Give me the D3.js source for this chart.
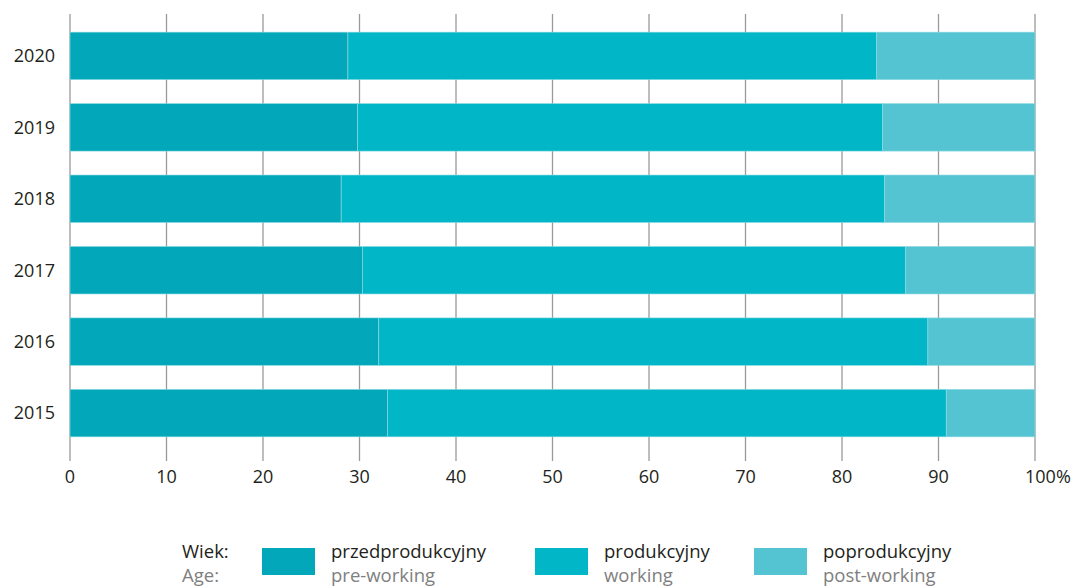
<!DOCTYPE html>
<html>
<head>
<meta charset="utf-8">
<script src="https://cdn.jsdelivr.net/npm/d3@7/dist/d3.min.js"></script>
<style>
  body { margin: 0; background: #fff; }
  text { font-family: "Open Sans", "Noto Sans", sans-serif; }
</style>
</head>
<body>
<div id="chart"></div>
<script>
// data (percent of population)
var years = ["2020", "2019", "2018", "2017", "2016", "2015"]
var preWorking = [28.8, 29.8, 28.1, 30.3, 32.0, 32.9]
var working = [54.8, 54.4, 56.3, 56.3, 56.9, 57.9]
var postWorking = [16.4, 15.8, 15.6, 13.4, 11.1, 9.2]
var xTicks = [0, 10, 20, 30, 40, 50, 60, 70, 80, 90, 100]

var seriesKeys = ["pre", "work", "post"]
var seriesPl = ["przedprodukcyjny", "produkcyjny", "poprodukcyjny"]
var seriesEn = ["pre-working", "working", "post-working"]
var colors = ["#02a8b9", "#00b6c7", "#54c4d2"]

var width = 1074, height = 588
var margin = {top: 14, left: 70, right: 39}

var svg = d3.select("#chart")
  .append("svg")
    .attr("width", width)
    .attr("height", height)

var table = years.map(function(y, i){
  return {year: y, pre: preWorking[i], work: working[i], post: postWorking[i]}
})

var x = d3.scaleLinear()
  .domain([0, 100])
  .range([margin.left, width - margin.right])

var y = d3.scaleBand()
  .domain(years)
  .range([20, 449])
  .paddingInner(0.335)
  .paddingOuter(0.17)

// vertical grid lines
svg.selectAll(".grid")
  .data(xTicks)
  .enter()
  .append("line")
    .attr("class", "grid")
    .attr("x1", function(d){ return x(d) })
    .attr("x2", function(d){ return x(d) })
    .attr("y1", margin.top)
    .attr("y2", 461)
    .attr("stroke", "#9a9a9a")
    .attr("stroke-width", 1.3)

var stacked = d3.stack().keys(seriesKeys)(table)

svg.selectAll(".layer")
  .data(stacked)
  .enter()
  .append("g")
    .attr("class", "layer")
    .attr("fill", function(d, i){ return colors[i] })
  .selectAll("rect")
  .data(function(d){ return d })
  .enter()
  .append("rect")
    .attr("x", function(d){ return x(d[0]) })
    .attr("width", function(d){ return x(d[1]) - x(d[0]) })
    .attr("y", function(d){ return y(d.data.year) })
    .attr("height", y.bandwidth())
    .attr("stroke", "#8fdbe3")
    .attr("stroke-width", 0.6)

// year labels
svg.selectAll(".yearLabel")
  .data(years)
  .enter()
  .append("text")
    .attr("class", "yearLabel")
    .attr("x", 55)
    .attr("y", function(d){ return y(d) + y.bandwidth() / 2 })
    .attr("dy", "0.35em")
    .attr("text-anchor", "end")
    .attr("font-size", "18px")
    .attr("fill", "#231f20")
    .text(function(d){ return d })

// x tick labels
svg.selectAll(".tickLabel")
  .data(xTicks)
  .enter()
  .append("text")
    .attr("class", "tickLabel")
    .attr("x", function(d){ return d === 100 ? x(d) - 10 : x(d) })
    .attr("y", 483)
    .attr("text-anchor", function(d){ return d === 100 ? "start" : "middle" })
    .attr("font-size", "18px")
    .attr("fill", "#231f20")
    .text(function(d){ return d === 100 ? "100%" : d })

// legend
var legend = svg.append("g").attr("class", "legend")

legend.append("text")
  .attr("x", 182).attr("y", 558)
  .attr("font-size", "18.5px").attr("fill", "#231f20")
  .text("Wiek:")
legend.append("text")
  .attr("x", 182).attr("y", 582)
  .attr("font-size", "18.5px").attr("fill", "#808080")
  .text("Age:")

var legendX = [262, 535, 754]

var items = legend.selectAll(".item")
  .data(seriesKeys)
  .enter()
  .append("g")
    .attr("class", "item")
    .attr("transform", function(d, i){ return "translate(" + legendX[i] + ",0)" })

items.append("rect")
  .attr("x", 0).attr("y", 548)
  .attr("width", 53).attr("height", 27)
  .attr("fill", function(d, i){ return colors[i] })

items.append("text")
  .attr("x", 69).attr("y", 558)
  .attr("font-size", "18.5px").attr("fill", "#231f20")
  .text(function(d, i){ return seriesPl[i] })

items.append("text")
  .attr("x", 69).attr("y", 582)
  .attr("font-size", "18.5px").attr("fill", "#808080")
  .text(function(d, i){ return seriesEn[i] })
</script>
</body>
</html>
